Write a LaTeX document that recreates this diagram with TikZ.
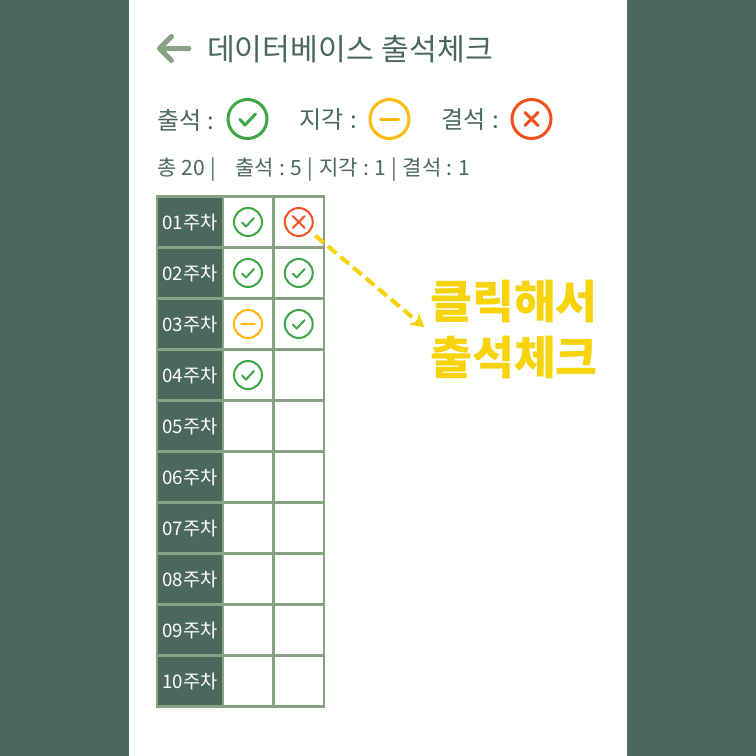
\documentclass[tikz,border=0pt]{standalone}
\usepackage{fontspec}
\setmainfont{Noto Sans CJK KR}
\usetikzlibrary{arrows.meta, positioning}
\definecolor{cdark}{HTML}{4A685C}
\definecolor{csage}{HTML}{88A384}
\definecolor{cgreen}{HTML}{3FA648}
\definecolor{camber}{HTML}{FDBA0C}
\definecolor{cred}{HTML}{F2511F}
\definecolor{cyellow}{HTML}{F6D30B}
\newcommand{\widegap}{\hskip .26em\relax}
\tikzset{
  every picture/.style={x=1pt, y=-1pt},
  caption/.style={text=cdark, inner sep=0pt, anchor=west, font=\fontsize{#1}{#1}\selectfont},
  weekbox/.style={draw=csage, fill=cdark, text=white, line width=2.4pt, minimum width=66pt, minimum height=51pt, inner sep=0pt, font=\fontsize{18.7}{18.7}\selectfont},
  cellbox/.style={draw=csage, fill=white, line width=2.4pt, minimum width=50.5pt, minimum height=51pt, inner sep=0pt},
  tick/.style={circle, draw=#1, fill=white, line width=2pt, minimum size=28pt, inner sep=0pt},
  bigtick/.style={tick=#1, line width=3pt, minimum size=39pt},
  callout/.style={text=cyellow, inner sep=0pt, font=\fontsize{45.5}{45.5}\selectfont\bfseries},
}
\begin{document}
\begin{tikzpicture}
  \useasboundingbox (0,0) rectangle (756,756);
  \fill[cdark] (0,0) rectangle (756,756);
  \fill[white] (129,0) rectangle (627,756);
  % back arrow and title
  \coordinate (backtip) at (159.5,48.5);
  \coordinate (backend) at (189,48.5);
  \draw[csage, line width=5pt, line cap=round, line join=round] (backend) -- (backtip) -- ++(12,-12) (backtip) -- ++(12,12);
  \node[caption=30.2] (title) at (207,49) {데이터베이스\widegap{}출석체크};
  % legend
  \node[caption=24] (legendok) at (157,120) {출석\widegap{}:};
  \node[bigtick=cgreen] (iconok) at (247.5,119) {};
  \node[caption=24] (legendlate) at (299.5,120) {지각\widegap{}:};
  \node[bigtick=camber] (iconlate) at (389.5,119) {};
  \node[caption=24] (legendabs) at (441.5,120) {결석\widegap{}:};
  \node[bigtick=cred] (iconabs) at (531.5,119) {};
  \draw[cgreen, line width=3pt, line cap=round, line join=round] (240,119.5) -- (245,125) -- (255.5,114);
  \draw[camber, line width=3pt, line cap=round] (380.5,119) -- (398.5,119);
  \draw[cred, line width=3pt, line cap=round] (525,112.5) -- (538,125.5) (538,112.5) -- (525,125.5);
  \node[caption=21] (counts) at (157,169.5) {총\widegap{}20\widegap{}|\hspace{19pt}출석\widegap{}:\widegap{}5\widegap{}|\widegap{}지각\widegap{}:\widegap{}1\widegap{}|\widegap{}결석\widegap{}:\widegap{}1};
  % table
  \foreach \wk [count=\i] in {01,02,03,04,05,06,07,08,09,10} {
    \node[weekbox] (week\i) at (190,171+\i*51) {\wk{}주차};
    \node[cellbox] (a\i) at (248,171+\i*51) {};
    \node[cellbox] (b\i) at (298.75,171+\i*51) {};
  }
  % marks
  \foreach \c in {a1,a2,b2,b3,a4} {
    \node[tick=cgreen] (m\c) at (\c) {};
    \draw[cgreen, line width=2pt, line cap=round, line join=round] ([shift={(-6,0.5)}]m\c.center) -- ++(4,4) -- ++(8,-8.5);
  }
  \node[tick=camber] (ma3) at (a3) {};
  \draw[camber, line width=2pt, line cap=round] ([xshift=-7pt]ma3.center) -- ([xshift=7pt]ma3.center);
  \node[tick=cred] (mb1) at (b1) {};
  \draw[cred, line width=2pt, line cap=round] ([shift={(-6,-6)}]mb1.center) -- ([shift={(6,6)}]mb1.center) ([shift={(6,-6)}]mb1.center) -- ([shift={(-6,6)}]mb1.center);
  % callout
  \node[callout] (click) at (514,301.5) {클릭해서};
  \node[callout] (check) at (514,357.5) {출석체크};
  \coordinate (clickend) at (424.5,327.5);
  \draw[cyellow, line width=4pt, dash pattern=on 11pt off 5.5pt, -{Stealth[length=14pt, width=15pt]}] (mb1.south east) ++(6,3) -- (clickend);
\end{tikzpicture}
\end{document}
